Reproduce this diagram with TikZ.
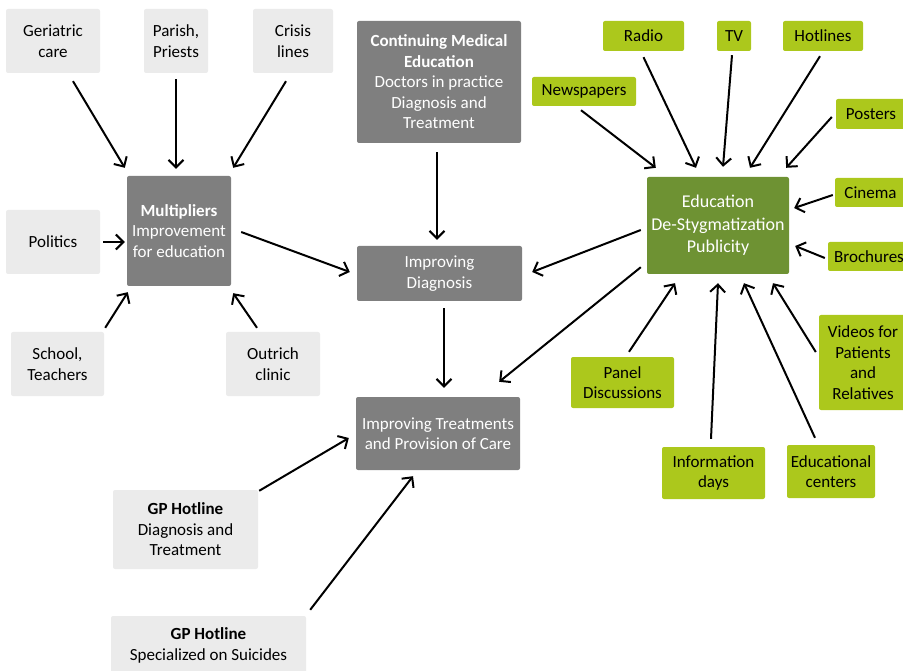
\documentclass[tikz,border=0pt]{standalone}
\usepackage{fontspec}
\setmainfont{Carlito}
\usetikzlibrary{arrows.meta, calc}

\definecolor{boxlight}{HTML}{EBEBEB}
\definecolor{boxdark}{HTML}{7F7F7F}
\definecolor{greendark}{HTML}{6E9233}
\definecolor{greenlight}{HTML}{ACC81C}

\tikzset{
  box/.style={rounded corners=2pt, align=center, inner sep=0pt,
              font=\fontsize{17}{20.5}\selectfont},
  lbox/.style={box, fill=boxlight, text=black},
  dbox/.style={box, fill=boxdark, text=white},
  gbox/.style={box, fill=greenlight, text=black},
  ebox/.style={box, fill=greendark, text=white, font=\fontsize{18}{22.5}\selectfont},
  conn/.style={line width=2pt, -{Straight Barb[length=7.5pt, width=15pt]}},
}

\begin{document}
\begin{tikzpicture}[x=1pt, y=-1pt]
    \useasboundingbox (0,0) rectangle (903,671);

    % linke Seite: Multiplikatoren
    \node[lbox, minimum width=94, minimum height=64] (geri)   at (53,41)   {Geriatric\\care};
    \node[lbox, minimum width=64, minimum height=64] (parish) at (176,41)  {Parish,\\Priests};
    \node[lbox, minimum width=80, minimum height=64] (crisis) at (293,41)  {Crisis\\lines};
    \node[lbox, minimum width=94, minimum height=64] (pol)    at (53,242)  {Politics};
    \node[lbox, minimum width=93, minimum height=64] (school) at (57.5,364) {School,\\Teachers};
    \node[lbox, minimum width=94, minimum height=64] (outr)   at (273,364) {Outrich\\clinic};
    \node[dbox, minimum width=104, minimum height=110] (mult) at (179,231)
        {\textbf{Multipliers}\\Improvement\\for education};

    % Mitte
    \node[dbox, minimum width=164, minimum height=122] (cme) at (439,82)
        {\textbf{Continuing Medical}\\\textbf{Education}\\Doctors in practice\\Diagnosis and\\Treatment};
    \node[dbox, minimum width=165, minimum height=55] (diag)  at (439.5,273.5) {Improving\\Diagnosis};
    \node[dbox, minimum width=164, minimum height=73] (treat) at (438,433.5)
        {Improving Treatments\\and Provision of Care};
    \node[lbox, minimum width=145, minimum height=79] (gpdiag) at (185.5,529.5)
        {\textbf{GP Hotline}\\Diagnosis and\\Treatment};
    \node[lbox, minimum width=195, minimum height=59] (gpsuic) at (208.5,645.5)
        {\textbf{GP Hotline}\\Specialized on Suicides};

    % rechte Seite: Öffentlichkeit
    \node[ebox, minimum width=142, minimum height=97] (edu) at (718,225.5)
        {Education\\De-Stygmatization\\Publicity};
    \node[gbox, minimum width=81,  minimum height=30] (radio)  at (643.5,36) {Radio};
    \node[gbox, minimum width=34,  minimum height=30] (tv)     at (734,36)   {TV};
    \node[gbox, minimum width=80,  minimum height=30] (hot)    at (823,36)   {Hotlines};
    \node[gbox, minimum width=104, minimum height=29] (news)   at (584,91.5) {Newspapers};
    \node[gbox, minimum width=70,  minimum height=30] (post)   at (871,114)  {Posters};
    \node[gbox, minimum width=71,  minimum height=29] (cine)   at (870.5,192.5) {Cinema};
    \node[gbox, minimum width=82,  minimum height=29] (broch)  at (869,256.5) {Brochures};
    \node[gbox, minimum width=103, minimum height=51] (panel)  at (622.5,382.5) {Panel\\Discussions};
    \node[gbox, minimum width=103, minimum height=52] (info)   at (713.5,473) {Information\\days};
    \node[gbox, minimum width=88,  minimum height=53] (educ)   at (831,471.5) {Educational\\centers};
    \node[gbox, minimum width=88,  minimum height=95] (video)  at (863,362.5)
        {Videos for\\Patients\\and\\Relatives};

    % Pfeile zu den Multiplikatoren
    \draw[conn] ([shift={(20,8)}]geri.south)         -- ([shift={(-2,-8)}]mult.north west);
    \draw[conn] ([shift={(0,6)}]parish.south)        -- ([shift={(-3,-7)}]mult.north);
    \draw[conn] ([shift={(-7,8)}]crisis.south)       -- ([shift={(2,-8)}]mult.north east);
    \draw[conn] ([shift={(3,0)}]pol.east)            -- ([shift={(-2,11)}]mult.west);
    \draw[conn] ([shift={(1,-4)}]school.north east)  -- ([shift={(1,6)}]mult.south west);
    \draw[conn] ([shift={(-16,-4)}]outr.north)       -- ([shift={(2,7)}]mult.south east);

    % Mitte
    \draw[conn] ([shift={(10,1)}]mult.east)          -- ([shift={(-7,-1.5)}]diag.west);
    \draw[conn] ([shift={(-2,9)}]cme.south)          -- ([shift={(-2.5,-6)}]diag.north);
    \draw[conn] ([shift={(4.5,7)}]diag.south)        -- ([shift={(6,-9)}]treat.north);
    \draw[conn] ([shift={(-6,4.5)}]edu.west)         -- ([shift={(10,-1.5)}]diag.east);
    \draw[conn] ([shift={(-6,-7)}]edu.south west)    -- ([shift={(-21,-15)}]treat.north east);
    \draw[conn] ([shift={(1,1)}]gpdiag.north east)   -- ([shift={(-7,4.5)}]treat.west);
    \draw[conn] ([shift={(4,-6)}]gpsuic.north east)  -- ([shift={(-25,6)}]treat.south);

    % Pfeile zur Öffentlichkeitsarbeit
    \draw[conn] ([shift={(-3,4)}]news.south)         -- ([shift={(9,-9)}]edu.north west);
    \draw[conn] ([shift={(0,6)}]radio.south)         -- ([shift={(-22,-9)}]edu.north);
    \draw[conn] ([shift={(-2,4)}]tv.south)           -- ([shift={(5,-10)}]edu.north);
    \draw[conn] ([shift={(-3,5)}]hot.south)          -- ([shift={(32,-9)}]edu.north);
    \draw[conn] ([shift={(-4,3)}]post.west)          -- ([shift={(-3,-9)}]edu.north east);
    \draw[conn] ([shift={(-2,2.5)}]cine.west)        -- ([shift={(5,-17.5)}]edu.east);
    \draw[conn] ([shift={(-3,1.5)}]broch.west)       -- ([shift={(6,20.5)}]edu.east);
    \draw[conn] ([shift={(6.5,-5)}]panel.north)      -- ([shift={(-43,9)}]edu.south);
    \draw[conn] ([shift={(-2.5,-8)}]info.north)      -- ([shift={(0,9)}]edu.south);
    \draw[conn] ([shift={(-16,-7)}]educ.north)       -- ([shift={(26,9)}]edu.south);
    \draw[conn] ([shift={(-3,-10.5)}]video.west)     -- ([shift={(55,9)}]edu.south);
\end{tikzpicture}
\end{document}
